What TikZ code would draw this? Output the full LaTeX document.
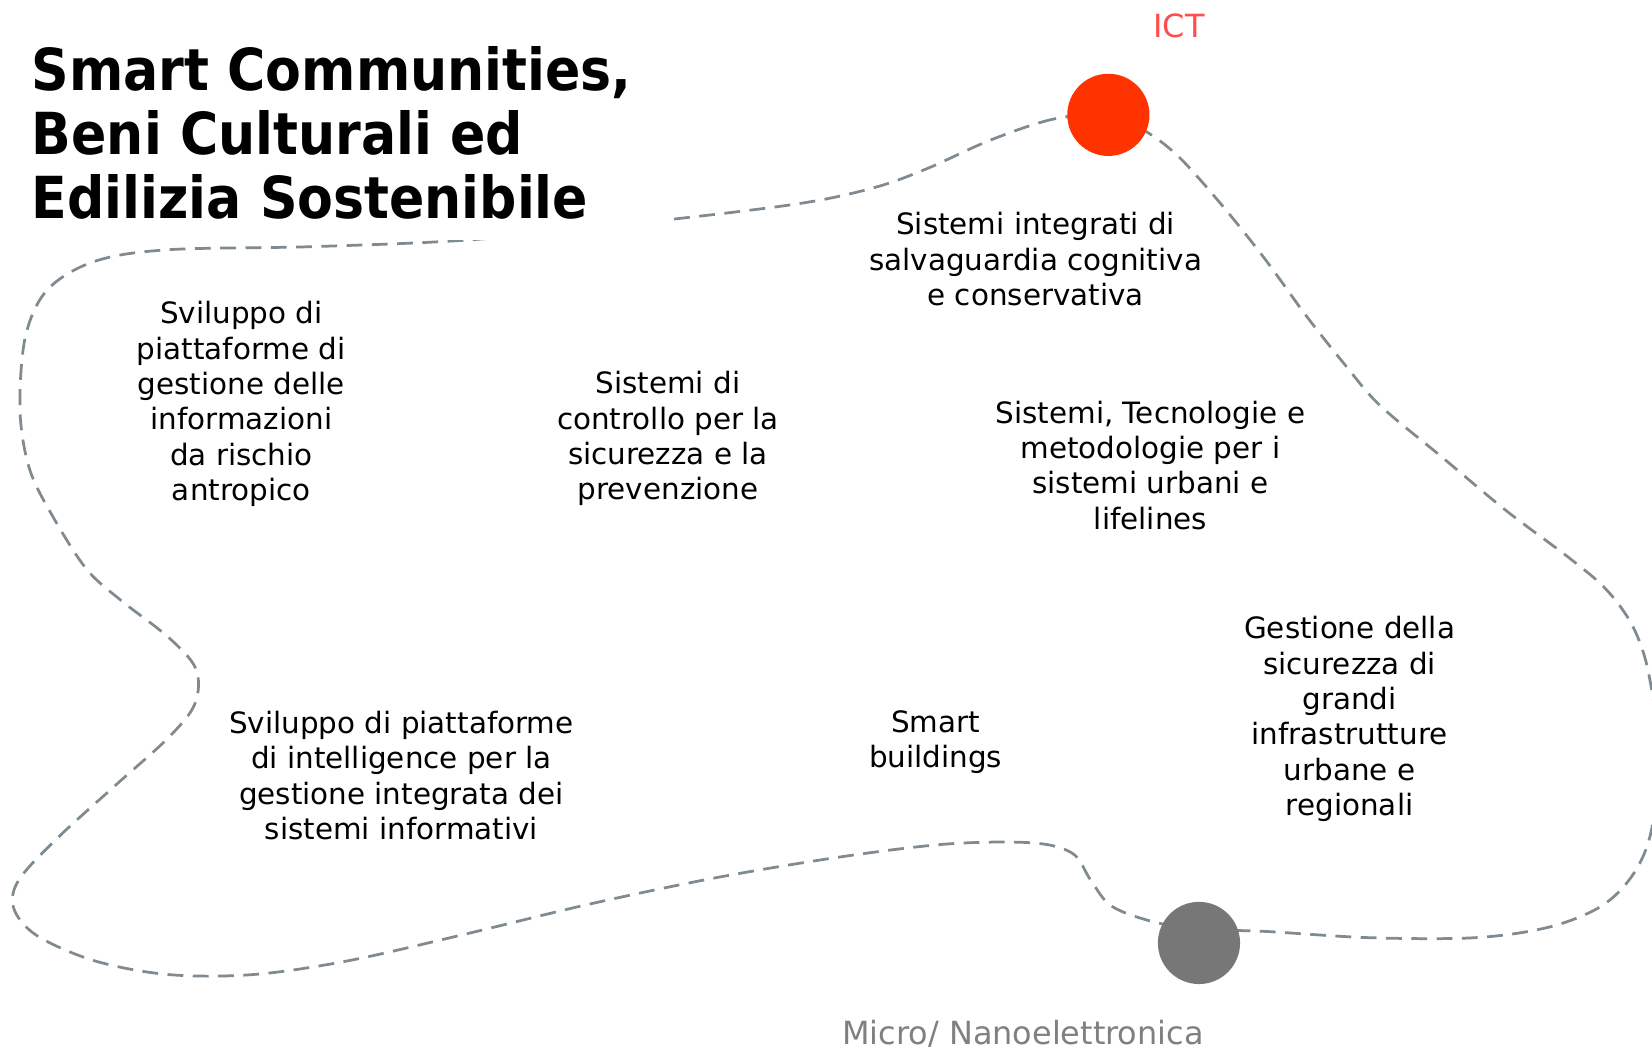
\documentclass[tikz,border=0pt]{standalone}
\usepackage{fontspec}
\setmainfont{DejaVu Sans}
\newfontfamily\ttlfont[FakeStretch=0.9]{DejaVu Sans Bold}
\definecolor{pathc}{RGB}{127,138,145}
\definecolor{ictred}{RGB}{255,51,0}
\definecolor{ictlbl}{RGB}{255,77,77}
\definecolor{dotgray}{RGB}{119,119,119}
\definecolor{lblgray}{RGB}{128,128,128}
\begin{document}
\begin{tikzpicture}[x=1pt,y=-1pt,
  lbl/.style={align=center,font=\fontsize{27.9}{33.5}\selectfont,inner sep=0pt,text=black},
  ttl/.style={align=left,font=\ttlfont\fontsize{55}{60.5}\selectfont,inner sep=0pt,anchor=north west},
  dotnode/.style={circle,minimum size=78pt,inner sep=0pt},
  dotlbl/.style={font=\fontsize{30.3}{36}\selectfont,inner sep=0pt},
  looppath/.style={draw=pathc,line width=2.6pt,dash pattern=on 15pt off 9pt}]
\useasboundingbox (0,0) rectangle (1568,997);
\fill[white] (0,0) rectangle (1568,997);
\begin{scope}
\clip (0,0) rectangle (1568,997);
\draw[looppath] plot[smooth cycle, tension=0.55] coordinates {
 (1052,109) (1000,113) (940,133) (880,160) (830,178) (760,193) (630,209)
 (455,227) (300,234) (160,237) (90,248) (45,275) (24,320) (19,390)
 (28,445) (50,490) (82,540) (115,570) (160,605) (186,635) (185,668)
 (160,700) (110,745) (55,795) (18,835) (13,862) (35,888) (90,912)
 (160,925) (240,925) (330,912) (440,887) (560,858) (680,833) (800,813)
 (900,801) (980,800) (1018,810) (1035,835) (1055,860) (1095,875)
 (1138,882) (1200,884) (1300,890) (1400,890) (1470,880) (1520,860)
 (1550,830) (1567,790) (1575,720) (1565,640) (1550,595) (1525,560)
 (1490,530) (1430,485) (1370,435) (1310,385) (1278,348) (1240,300)
 (1200,245) (1160,195) (1120,150) (1088,125)};
\end{scope}
\fill[white] (0,0) rectangle (632,228);
\node[ttl] (title) at (30,44) {Smart Communities,\\Beni Culturali ed\\Edilizia Sostenibile};
\node[dotnode,fill=ictred] (ict) at (1052,109) {};
\node[dotnode,fill=dotgray] (micro) at (1138,895) {};
\node[dotlbl,text=ictlbl] (ictl) at (1119,25) {ICT};
\node[dotlbl,text=lblgray] (microl) at (971,981) {Micro/ Nanoelettronica};
\node[lbl] (t1) at (983,246) {Sistemi integrati di\\salvaguardia cognitiva\\e conservativa};
\node[lbl] (t2) at (229,383.5) {Sviluppo di\\piattaforme di\\gestione delle\\informazioni\\da rischio\\antropico};
\node[lbl] (t3) at (634,416.5) {Sistemi di\\controllo per la\\sicurezza e la\\prevenzione};
\node[lbl] (t4) at (1092,441.5) {Sistemi, Tecnologie e\\metodologie per i\\sistemi urbani e\\lifelines};
\node[lbl] (t5) at (1281,682.5) {Gestione della\\sicurezza di\\grandi\\infrastrutture\\urbane e\\regionali};
\node[lbl] (t6) at (888,704.5) {Smart\\buildings};
\node[lbl] (t7) at (381,736) {Sviluppo di piattaforme\\di intelligence per la\\gestione integrata dei\\sistemi informativi};
\end{tikzpicture}
\end{document}
